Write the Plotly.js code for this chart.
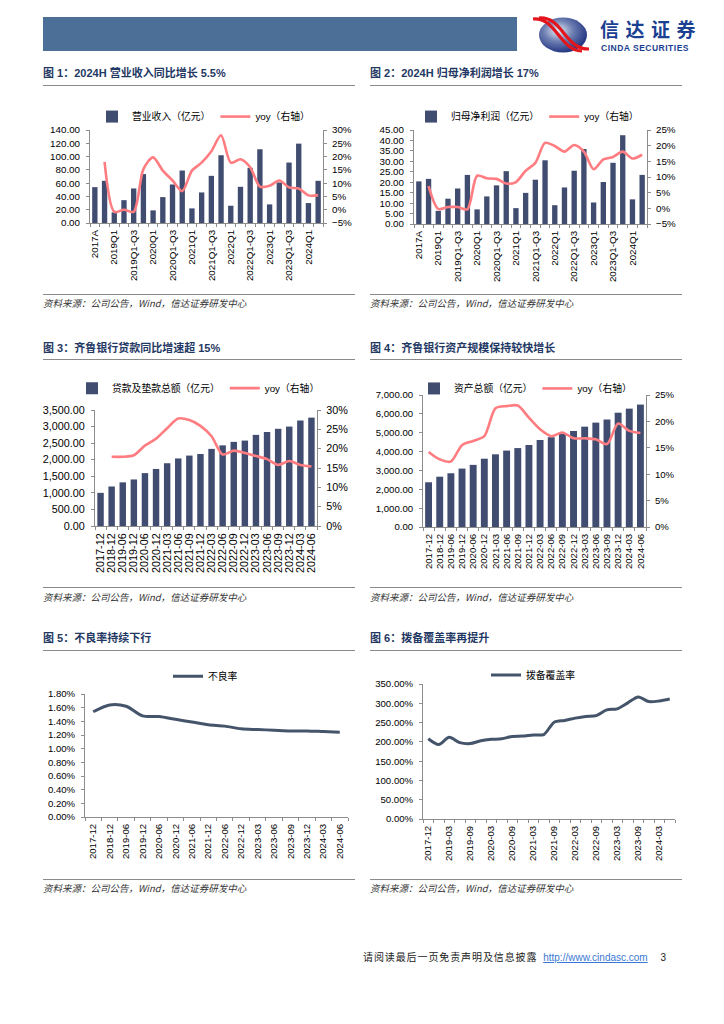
<!DOCTYPE html>
<html><head><meta charset="utf-8">
<script src="https://cdn.plot.ly/plotly-3.0.1.min.js"></script>
<style>
body{margin:0;background:#fff;}
#page{position:relative;width:724px;height:1024px;overflow:hidden;background:#fff;font-family:"Liberation Sans",Arial,"Noto Sans CJK SC",sans-serif;}
.abs{position:absolute;}
.ttl{position:absolute;font-family:"Liberation Sans","Noto Sans CJK SC",sans-serif;font-weight:bold;font-size:11px;color:#1f3864;white-space:nowrap;line-height:14px;}
.hl{position:absolute;height:0;border-top:1px solid #8a8a8a;}
.src{position:absolute;font-family:"Noto Sans CJK SC",sans-serif;font-style:italic;font-size:9.5px;color:#333;white-space:nowrap;line-height:12px;}
.chart{position:absolute;}
</style></head>
<body><div id="page">
<div class="abs" style="left:43px;top:17px;width:474px;height:34px;background:#4b6f97;"></div>
<svg class="abs" style="left:532px;top:16px" width="58" height="38" viewBox="0 0 58 38">
 <defs><radialGradient id="lg" cx="40%" cy="38%" r="68%"><stop offset="0" stop-color="#e8ecf4"/><stop offset="0.45" stop-color="#6d7fb2"/><stop offset="1" stop-color="#182a7a"/></radialGradient></defs>
 <ellipse cx="31" cy="19" rx="24" ry="17.5" fill="url(#lg)"/>
 <path d="M1,3 C16,2 22,14 29,22 S41,35 50,35" fill="none" stroke="#e3151d" stroke-width="3.2"/>
 <path d="M7,2 C22,1 28,13 35,21 S47,33 57,33" fill="none" stroke="#e3151d" stroke-width="3.2"/>
</svg>
<div class="abs" style="left:600px;top:20px;font-family:'Noto Sans CJK SC',sans-serif;font-weight:bold;font-size:19px;line-height:18px;height:18px;color:#1b3f91;letter-spacing:6.5px;white-space:nowrap;">信达证券</div>
<div class="abs" style="left:601px;top:43.5px;font-family:'Liberation Sans',Arial,sans-serif;font-weight:bold;font-size:8.5px;line-height:9px;color:#1b3f91;letter-spacing:0.5px;white-space:nowrap;">CINDA SECURITIES</div>

<div class="ttl" style="left:43px;top:66px;">图 1：2024H 营业收入同比增长 5.5%</div>
<div class="hl" style="left:43px;top:85px;width:312px;"></div>
<div class="ttl" style="left:370px;top:66px;">图 2：2024H 归母净利润增长 17%</div>
<div class="hl" style="left:370px;top:85px;width:312px;"></div>
<div class="hl" style="left:43px;top:294px;width:312px;"></div>
<div class="src" style="left:43px;top:297px;">资料来源：公司公告，Wind，信达证券研发中心</div>
<div class="hl" style="left:370px;top:294px;width:312px;"></div>
<div class="src" style="left:370px;top:297px;">资料来源：公司公告，Wind，信达证券研发中心</div>

<div class="ttl" style="left:43px;top:341px;">图 3：齐鲁银行贷款同比增速超 15%</div>
<div class="hl" style="left:43px;top:359px;width:312px;"></div>
<div class="ttl" style="left:370px;top:341px;">图 4：齐鲁银行资产规模保持较快增长</div>
<div class="hl" style="left:370px;top:359px;width:312px;"></div>
<div class="hl" style="left:43px;top:587px;width:312px;"></div>
<div class="src" style="left:43px;top:591px;">资料来源：公司公告，Wind，信达证券研发中心</div>
<div class="hl" style="left:370px;top:587px;width:312px;"></div>
<div class="src" style="left:370px;top:591px;">资料来源：公司公告，Wind，信达证券研发中心</div>

<div class="ttl" style="left:43px;top:631px;">图 5：不良率持续下行</div>
<div class="hl" style="left:43px;top:650px;width:312px;"></div>
<div class="ttl" style="left:370px;top:631px;">图 6：拨备覆盖率再提升</div>
<div class="hl" style="left:370px;top:650px;width:312px;"></div>
<div class="hl" style="left:43px;top:879px;width:312px;"></div>
<div class="src" style="left:43px;top:882px;">资料来源：公司公告，Wind，信达证券研发中心</div>
<div class="hl" style="left:370px;top:879px;width:312px;"></div>
<div class="src" style="left:370px;top:882px;">资料来源：公司公告，Wind，信达证券研发中心</div>

<div class="abs" style="left:363px;top:950px;white-space:nowrap;font-size:10px;line-height:14px;">
<span style="font-family:'Noto Sans CJK SC',serif;color:#222;letter-spacing:0.9px;">请阅读最后一页免责声明及信息披露</span>
<span style="font-family:'Liberation Sans',Arial,sans-serif;color:#3a78d4;text-decoration:underline;margin-left:3px;">http://www.cindasc.com</span>
<span style="font-family:'Liberation Sans',Arial,sans-serif;color:#222;margin-left:10px;">3</span>
</div>

<div id="c1" class="chart" style="left:43px;top:90px;"></div>
<div id="c2" class="chart" style="left:370px;top:90px;"></div>
<div id="c3" class="chart" style="left:43px;top:362px;"></div>
<div id="c4" class="chart" style="left:370px;top:362px;"></div>
<div id="c5" class="chart" style="left:43px;top:652px;"></div>
<div id="c6" class="chart" style="left:370px;top:652px;"></div>
</div>
<script>
// ---------- DATA ----------
const revCats = ["2017A","2018A","2019Q1","2019H1","2019Q1-Q3","2019A","2020Q1","2020H1","2020Q1-Q3","2020A","2021Q1","2021H1","2021Q1-Q3","2021A","2022Q1","2022H1","2022Q1-Q3","2022A","2023Q1","2023H1","2023Q1-Q3","2023A","2024Q1","2024H1"];
const revVals = [54,63.5,16,34.4,52,73.6,19,39,58,79,22,46,71,102,26,54.5,83,111,28,61,91,119.5,30,63.5];
const revYoy  = [null,18,-0.8,0,-0.8,15.3,19.7,14.7,11,7,14.7,17.7,22,28,17.7,19,16,8.7,9,11,8.4,8,5.4,5.5];
const profitVals = [20.4,21.6,6.3,12.1,17,23.5,7,13.2,18.5,25.3,7.6,14.9,21.2,30.5,9,17.5,25.5,35.9,10.3,20.1,29.3,42.5,11.8,23.5];
const profitYoy  = [null,7.1,-0.2,0.4,0.4,-0.3,10.4,9.6,9.4,7.9,8.4,12,14.5,20.9,19.9,18.1,20.2,18.1,12.5,15.6,16.4,18.1,15.9,17.1];
const bankCats = ["2017-12","2018-12","2019-06","2019-12","2020-06","2020-12","2021-03","2021-06","2021-09","2021-12","2022-03","2022-06","2022-09","2022-12","2023-03","2023-06","2023-09","2023-12","2024-03","2024-06"];
const loanVals = [1000,1192,1317,1404,1596,1721,1894,2038,2125,2173,2327,2433,2538,2577,2750,2837,2933,3000,3183,3270];
const loanYoy  = [null,17.9,17.9,18.3,20.8,22.6,25.3,27.8,27.4,25.9,23.2,18.5,19.5,18.9,18.1,17.3,15.8,16.8,15.8,15.4];
const assetVals = [2372,2668,2850,3097,3295,3622,3855,4053,4185,4349,4613,4761,4959,5091,5321,5535,5700,6062,6277,6491];
const assetYoy  = [14.2,12.8,12.4,15.5,16.3,17.2,22.5,22.9,23,20.7,18.5,17.2,17.9,16.8,16.8,16.6,15.7,19.6,18.2,17.8];
const nplCats = ["2017-12","2018-12","2019-06","2019-12","2020-06","2020-12","2021-06","2021-12","2022-06","2022-12","2023-03","2023-06","2023-09","2023-12","2024-03","2024-06"];
const nplVals = [1.54,1.64,1.62,1.48,1.47,1.43,1.39,1.35,1.33,1.29,1.28,1.27,1.26,1.26,1.25,1.24];
const covCats = ["2017-12","2018-12","2019-03","2019-06","2019-09","2019-12","2020-03","2020-06","2020-09","2020-12","2021-03","2021-06","2021-09","2021-12","2022-03","2022-06","2022-09","2022-12","2023-03","2023-06","2023-09","2023-12","2024-03","2024-06"];
const covVals = [208,193,212,198,195.5,203,206.5,208,214,215,218,219,251,255.6,261.6,266,268,283,285.6,301,316.5,304.5,306,311];

// ---------- STYLE ----------
const F = '"Liberation Sans", Arial, "Noto Sans CJK SC", sans-serif';
const BAR = '#414d70', PINK = '#ff7c80', LINE = '#44546a', AX = '#8c8c8c';
const cfg = {staticPlot:true, displayModeBar:false};

function axisBase(extra){
  return Object.assign({showline:true, linecolor:AX, linewidth:1, ticks:'outside', ticklen:3, tickcolor:AX,
    showgrid:false, zeroline:false, fixedrange:true}, extra);
}
function margins(box, plot){
  return {l:plot.l-box.x, r:box.x+box.w-plot.r, t:plot.t-box.y, b:box.y+box.h-plot.b, pad:0};
}
function legendOf(plot, leg){
  return {orientation:'h', x:(leg.x-plot.l)/(plot.r-plot.l), xanchor:'left',
          y:(plot.b-leg.y)/(plot.b-plot.t), yanchor:'middle',
          font:{family:F, size:9.8, color:'#000'}, itemwidth:30, bgcolor:'rgba(0,0,0,0)', tracegroupgap:0};
}

function comboChart(id, box, plot, leg, cats, tickText, bars, yoy, barName, fs, gap, y1, y2, y1fmt){
  const traces = [
    {type:'bar', x:cats, y:bars, name:barName, marker:{color:BAR}, yaxis:'y'},
    {type:'scatter', mode:'lines', x:cats, y:yoy, name:'yoy（右轴）', yaxis:'y2',
     line:{color:PINK, width:2.6, shape:'spline', smoothing:0.8}, connectgaps:false}
  ];
  const layout = {
    width:box.w, height:box.h, margin:margins(box, plot),
    paper_bgcolor:'rgba(0,0,0,0)', plot_bgcolor:'rgba(0,0,0,0)',
    font:{family:F, size:fs, color:'#000'},
    bargap:gap, showlegend:true,
    legend:legendOf(plot, leg),
    xaxis:axisBase({type:'category', tickmode:'array', tickvals:cats, ticktext:tickText, tickangle:-90,
            tickson:'boundaries', range:[-0.5, cats.length-0.5], ticklabelstandoff:2}),
    yaxis:axisBase({range:y1.range, dtick:y1.dtick, tick0:0, tickformat:y1fmt, ticklabelstandoff:4}),
    yaxis2:axisBase({overlaying:'y', side:'right', range:y2.range, dtick:y2.dtick, tick0:0, ticksuffix:'%', ticklabelstandoff:3})
  };
  Plotly.newPlot(id, traces, layout, cfg);
}

function lineChart(id, box, plot, leg, cats, tickText, vals, name, fs, yr, fmt){
  const traces = [{type:'scatter', mode:'lines', x:cats, y:vals, name:name,
    line:{color:LINE, width:3, shape:'spline', smoothing:0.8}}];
  const layout = {
    width:box.w, height:box.h, margin:margins(box, plot),
    paper_bgcolor:'rgba(0,0,0,0)', plot_bgcolor:'rgba(0,0,0,0)',
    font:{family:F, size:fs, color:'#000'}, showlegend:true,
    legend:legendOf(plot, leg),
    xaxis:axisBase({type:'category', tickmode:'array', tickvals:cats, ticktext:tickText, tickangle:-90,
            tickson:'boundaries', range:[-0.5, cats.length-0.5], ticklabelstandoff:2}),
    yaxis:axisBase({range:yr.range, dtick:yr.dtick, tick0:0, tickformat:fmt, ticksuffix:'%', ticklabelstandoff:4})
  };
  Plotly.newPlot(id, traces, layout, cfg);
}

const revTicks = revCats.map((c,i)=> i%2===0 ? c : '');
const covTicks = covCats.map((c,i)=> i%2===0 ? c : '');

comboChart('c1', {x:43,y:90,w:315,h:200}, {l:90,r:323,t:126,b:223}, {x:92,y:112},
  revCats, revTicks, revVals, revYoy, '营业收入（亿元）', 9.8, 0.45, {range:[0,140],dtick:20}, {range:[-5,30],dtick:5}, '.2f');
comboChart('c2', {x:370,y:90,w:315,h:200}, {l:414,r:647,t:126,b:224}, {x:411,y:112},
  revCats, revTicks, profitVals, profitYoy, '归母净利润（亿元）', 9.8, 0.45, {range:[0,45],dtick:5}, {range:[-5,25],dtick:5}, '.2f');
comboChart('c3', {x:43,y:362,w:315,h:222}, {l:95,r:317,t:404,b:526}, {x:72,y:381},
  bankCats, bankCats, loanVals, loanYoy, '贷款及垫款总额（亿元）', 10.8, 0.42, {range:[0,3500],dtick:500}, {range:[0,30],dtick:5}, ',.2f');
comboChart('c4', {x:370,y:362,w:315,h:222}, {l:423,r:646,t:386,b:527}, {x:414,y:379},
  bankCats, bankCats, assetVals, assetYoy, '资产总额（亿元）', 9.6, 0.38, {range:[0,7000],dtick:1000}, {range:[0,25],dtick:5}, ',.2f');
lineChart('c5', {x:43,y:652,w:315,h:224}, {l:85,r:348,t:692,b:817}, {x:168,y:674},
  nplCats, nplCats, nplVals, '不良率', 9.6, {range:[0,1.8],dtick:0.2}, '.2f');
lineChart('c6', {x:370,y:652,w:315,h:224}, {l:423,r:675,t:683,b:819}, {x:486,y:675},
  covCats, covTicks, covVals, '拨备覆盖率', 9.6, {range:[0,350],dtick:50}, '.2f');
</script>
</body></html>
